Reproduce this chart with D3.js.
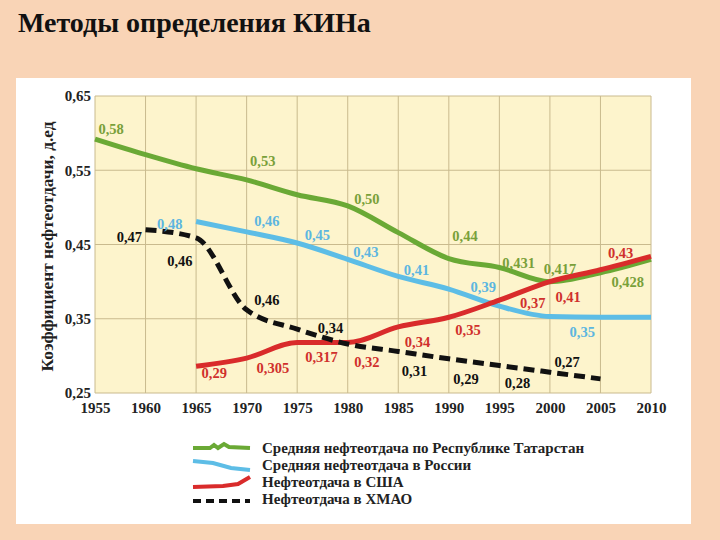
<!DOCTYPE html>
<html>
<head>
<meta charset="utf-8">
<script src="https://cdn.jsdelivr.net/npm/d3@7"></script>
<style>
  html, body { margin: 0; padding: 0; background: #f9d4b6; }
  svg { display: block; }
  svg text { font-family: "Liberation Serif", "Times New Roman", serif; font-weight: bold; }
</style>
</head>
<body>
<svg width="720" height="540"></svg>
<script>
const years = [1955, 1960, 1965, 1970, 1975, 1980, 1985, 1990, 1995, 2000, 2005, 2010];
const yTicks = [0.25, 0.35, 0.45, 0.55, 0.65];

// series values
const tatarstan = [0.592, 0.571, 0.552, 0.537, 0.517, 0.502, 0.466, 0.431, 0.419, 0.400, 0.412, 0.430];
const russiaYears = [1965, 1970, 1975, 1980, 1985, 1990, 1995, 2000, 2005, 2010];
const russia = [0.481, 0.467, 0.452, 0.430, 0.407, 0.390, 0.367, 0.353, 0.352, 0.352];
const usaYears = [1965, 1970, 1975, 1980, 1985, 1990, 1995, 2000, 2005, 2010];
const usa = [0.286, 0.297, 0.318, 0.318, 0.339, 0.352, 0.375, 0.400, 0.416, 0.434];
const khmaoYears = [1960, 1965, 1970, 1975, 1980, 1985, 1990, 1995, 2000, 2005];
const khmao = [0.470, 0.459, 0.362, 0.336, 0.316, 0.306, 0.296, 0.287, 0.278, 0.269];

// value labels: text, anchor year, anchor value
const tatarstanLabels = [["0,58", 1956.6, 0.606], ["0,53", 1971.6, 0.5625], ["0,50", 1981.9, 0.511],
  ["0,44", 1991.6, 0.4615], ["0,431", 1996.9, 0.425], ["0,417", 2001.0, 0.417], ["0,428", 2007.7, 0.3995]];
const russiaLabels = [["0,48", 1962.4, 0.4776], ["0,46", 1972.0, 0.4817], ["0,45", 1977.0, 0.4628],
  ["0,43", 1981.8, 0.4399], ["0,41", 1986.8, 0.4157], ["0,39", 1993.4, 0.3928], ["0,35", 2003.2, 0.3322]];
const usaLabels = [["0,29", 1966.8, 0.2769], ["0,305", 1972.6, 0.2837], ["0,317", 1977.4, 0.2985],
  ["0,32", 1981.9, 0.2918], ["0,34", 1986.9, 0.3187], ["0,35", 1991.9, 0.3348], ["0,37", 1998.3, 0.3712],
  ["0,41", 2001.8, 0.3793], ["0,43", 2007.0, 0.4386]];
const khmaoLabels = [["0,47", 1958.4, 0.4601], ["0,46", 1963.4, 0.4278], ["0,46", 1972.0, 0.3753],
  ["0,34", 1978.3, 0.3375], ["0,31", 1986.6, 0.2796], ["0,29", 1991.7, 0.2689], ["0,28", 1996.8, 0.2635],
  ["0,27", 2001.7, 0.2917]];

const legendNames = [
  "Средняя нефтеотдача по Республике Татарстан",
  "Средняя нефтеотдача в России",
  "Нефтеотдача в США",
  "Нефтеотдача в ХМАО"
];

const svg = d3.select("svg");

// title
svg.append("text")
  .attr("x", 18).attr("y", 32)
  .attr("font-size", 28)
  .attr("fill", "#111")
  .text("Методы определения КИНа");

// white panel
svg.append("rect")
  .attr("x", 16).attr("y", 78).attr("width", 675).attr("height", 446)
  .attr("fill", "#fff");

const x = d3.scaleLinear().domain([1955, 2010]).range([95, 651]);
const y = d3.scaleLinear().domain([0.25, 0.65]).range([393, 96]);

// plot background
svg.append("rect")
  .attr("x", x(1955)).attr("y", y(0.65))
  .attr("width", x(2010) - x(1955)).attr("height", y(0.25) - y(0.65))
  .attr("fill", "#fdf4cc");

const grid = svg.append("g").attr("stroke", "#c9ba8e").attr("stroke-width", 1);
grid.selectAll(".vx").data(years).enter().append("line")
  .attr("x1", d => x(d)).attr("x2", d => x(d))
  .attr("y1", y(0.65)).attr("y2", y(0.25));
grid.selectAll(".hy").data(yTicks).enter().append("line")
  .attr("x1", x(1955)).attr("x2", x(2010))
  .attr("y1", d => y(d)).attr("y2", d => y(d));

// axes
const xAxis = svg.append("g")
  .attr("transform", `translate(0,${y(0.25)})`)
  .call(d3.axisBottom(x).tickValues(years).tickFormat(d3.format("d")).tickSize(0).tickPadding(9));
const yAxis = svg.append("g")
  .attr("transform", `translate(${x(1955)},0)`)
  .call(d3.axisLeft(y).tickValues(yTicks).tickFormat(d => d.toFixed(2).replace(".", ",")).tickSize(0).tickPadding(4));
[xAxis, yAxis].forEach(a => {
  a.attr("font-family", null);
  a.select(".domain").remove();
  a.selectAll("text")
    .attr("font-size", 15)
    .attr("fill", "#222");
});

svg.append("text")
  .attr("transform", `translate(53,${(y(0.25) + y(0.65)) / 2 + 2}) rotate(-90)`)
  .attr("text-anchor", "middle")
  .attr("font-size", 16)
  .attr("textLength", 250)
  .attr("lengthAdjust", "spacingAndGlyphs")
  .attr("fill", "#222")
  .text("Коэффициент нефтеотдачи, д.ед");

const line = d3.line()
  .curve(d3.curveMonotoneX)
  .x(d => x(d[0]))
  .y(d => y(d[1]));

const series = [
  { xs: years, ys: tatarstan, color: "#6aa935", text: "#79a03a", labels: tatarstanLabels },
  { xs: russiaYears, ys: russia, color: "#5dbde6", text: "#5cb6e0", labels: russiaLabels },
  { xs: usaYears, ys: usa, color: "#d92b2b", text: "#d0302c", labels: usaLabels },
  { xs: khmaoYears, ys: khmao, color: "#111", text: "#111", labels: khmaoLabels, dash: "11,6" }
];

svg.append("g")
  .selectAll("path")
  .data(series)
  .enter()
  .append("path")
  .attr("d", s => line(s.xs.map((yr, i) => [yr, s.ys[i]])))
  .attr("fill", "none")
  .attr("stroke", s => s.color)
  .attr("stroke-width", 5)
  .attr("stroke-dasharray", s => s.dash || null);

series.forEach(s => {
  svg.append("g")
    .selectAll("text")
    .data(s.labels)
    .enter()
    .append("text")
    .attr("x", d => x(d[1]))
    .attr("y", d => y(d[2]))
    .attr("dy", "0.35em")
    .attr("text-anchor", "middle")
    .attr("font-size", 14.5)
    .attr("fill", s.text)
    .text(d => d[0]);
});

// legend
const legendSamples = [
  "M0,0 L17,0 L21,-3 L25,0 L31,-4 L36,-1 L57,0",
  "M0,-4 L20,-2 L38,3 L57,5",
  "M0,5 L30,4 L45,2 L57,-5",
  "M0,2 L57,2"
];
const legend = svg.append("g").attr("transform", "translate(193,448)");
const rows = legend.selectAll("g")
  .data(series)
  .enter()
  .append("g")
  .attr("transform", (d, i) => `translate(0,${i * 17})`);
rows.append("path")
  .attr("d", (d, i) => legendSamples[i])
  .attr("fill", "none")
  .attr("stroke", d => d.color)
  .attr("stroke-width", 4)
  .attr("stroke-dasharray", d => d.dash ? "8,5" : null);
rows.append("text")
  .attr("x", 69)
  .attr("dy", "0.35em")
  .attr("font-size", 15)
  .attr("fill", "#222")
  .text((d, i) => legendNames[i]);
</script>
</body>
</html>
